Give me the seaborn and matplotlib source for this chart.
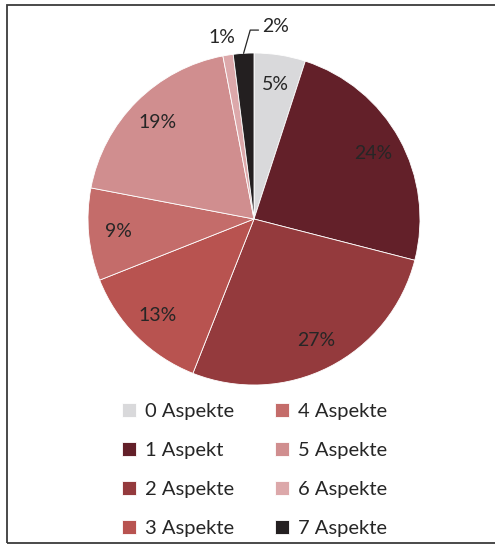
import numpy as np
import matplotlib
matplotlib.use("Agg")
import matplotlib.pyplot as plt
import seaborn as sns
from matplotlib.patches import Rectangle

# data
categories = ["0 Aspekte", "1 Aspekt", "2 Aspekte", "3 Aspekte",
              "4 Aspekte", "5 Aspekte", "6 Aspekte", "7 Aspekte"]
shares = [5, 24, 27, 13, 9, 19, 1, 2]
pct_labels = ["5%", "24%", "27%", "13%", "9%", "19%", "1%", "2%"]
hex_colors = ["#D9D9DB", "#632029", "#943A3D", "#B85350",
              "#C46C6A", "#D08E8F", "#DCA8AA", "#231F20"]

sns.set_theme(style="white")
plt.rcParams["font.family"] = ["Lato", "DejaVu Sans"]
palette = sns.color_palette(hex_colors)
txt = "#262626"

W, H = 495, 545
fig = plt.figure(figsize=(W / 100, H / 100), dpi=100)
fig.patch.set_facecolor("white")

# outer frame
fig.patches.append(Rectangle((7 / W, 2 / H), 1.2, (538) / H, transform=fig.transFigure,
                             fill=False, edgecolor="#3a3a3a", linewidth=1.3))

cx, cy, r = 254, 219, 166
ax = fig.add_axes([(cx - r) / W, (H - cy - r) / H, 2 * r / W, 2 * r / H])
wedges, _ = ax.pie(shares, colors=palette, startangle=90, counterclock=False,
                   wedgeprops=dict(edgecolor="white", linewidth=0.6))
ax.set_xlim(-1, 1)
ax.set_ylim(-1, 1)
ax.set_aspect("equal")
ax.axis("off")

fs = 14
for i, w in enumerate(wedges):
    ang = np.deg2rad((w.theta1 + w.theta2) / 2)
    if shares[i] >= 5:
        d = 0.82
        ax.text(d * np.cos(ang), d * np.sin(ang), pct_labels[i], ha="center", va="center",
                fontsize=fs, color=txt)
    elif pct_labels[i] == "1%":
        d = 1.11
        ax.text(d * np.cos(ang) - 0.02, d * np.sin(ang), pct_labels[i], ha="center", va="center",
                fontsize=fs, color=txt, clip_on=False)
    else:
        x0, y0 = np.cos(ang), np.sin(ang)
        ax.plot([x0, x0 + 0.04, x0 + 0.09], [y0, y0 + 0.14, y0 + 0.14],
                color=txt, lw=0.9, clip_on=False)
        ax.text(x0 + 0.11, y0 + 0.16, pct_labels[i], ha="left", va="center",
                fontsize=fs, color=txt, clip_on=False)

leg = fig.legend(wedges, categories, ncol=2, loc="upper left",
                 bbox_to_anchor=(104 / W, 1 - 385 / H), frameon=False,
                 fontsize=14.5, handlelength=0.7, handleheight=0.7,
                 handletextpad=0.45, columnspacing=2.0, labelspacing=1.08,
                 labelcolor=txt)

fig.savefig("out.png", dpi=100, facecolor="white")
